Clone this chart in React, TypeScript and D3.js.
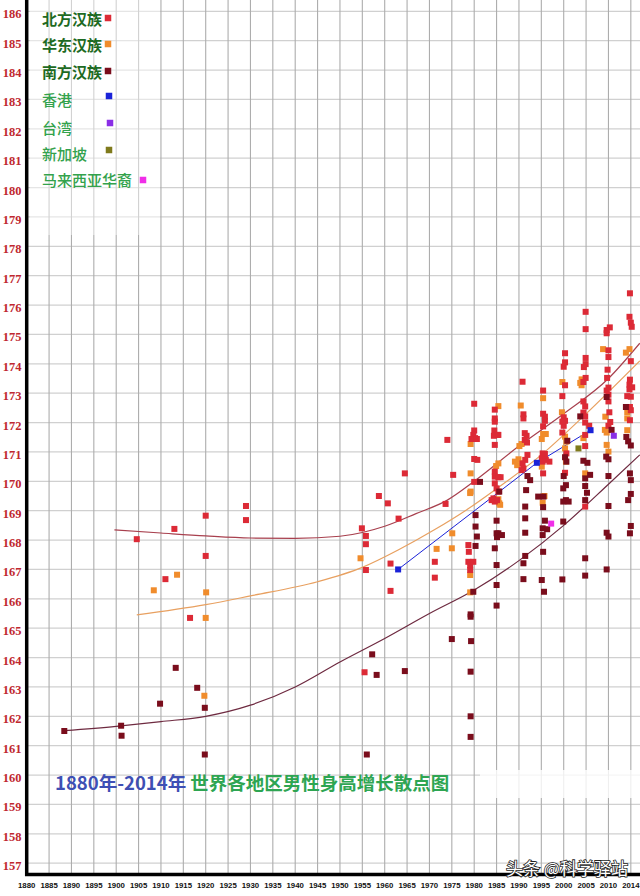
import React from "react";
import * as d3 from "d3";

type P = [number, number];

const Y_TICKS: number[] = d3.range(157, 187);
const X_TICKS: number[] = d3.range(1880, 2016, 5);
const X_TICK_LABELS: string[] = X_TICKS.map((t) => (t === 2015 ? "2014" : String(t)));

const NORTH: P[] = [
  [1904.6, 168.03], [1913, 168.38], [1920, 168.83], [1929, 169.16], [1929, 168.68], [1920, 167.46], [1911, 166.67], [1916.5, 165.35],
  [1958.7, 169.5], [1960.7, 169.25], [1963.1, 168.73], [1964.5, 170.27], [1954.9, 168.4], [1955.8, 168.14], [1955.8, 167.86], [1955.8, 166.98], [1961.3, 167.2], [1961.3, 166.27], [1955.5, 163.5],
  [1973.6, 169.23], [1971.2, 167.26], [1971.2, 166.72], [1974, 171.41], [1975.3, 170.22],
  [1980, 169.98], [1978.7, 167.83], [1978.8, 167.6], [1978.7, 167.26], [1979.1, 167.14], [1979.8, 167.26], [1979.1, 166.98],
  [1980, 172.64], [1980, 171.73], [1979.8, 171.58], [1980.2, 171.47], [1979.4, 171.44], [1980.6, 171.44], [1980, 170.76], [1980.7, 170.73],
  [1984.6, 172.44], [1984.6, 172.14], [1984.6, 172.03], [1984.5, 171.73], [1985.2, 171.58], [1984.4, 171.55], [1985.4, 171.58], [1984.6, 171.24], [1984.6, 170.33], [1984.6, 170.16], [1985.4, 170.14], [1985.9, 170.14], [1984.6, 169.93], [1985, 169.76], [1985.4, 169.65], [1984.3, 169.42], [1984.6, 169.31], [1985.1, 169.36], [1983.9, 169.36],
  [1990.8, 173.39], [1991, 172.28], [1991, 172.14], [1991.3, 171.64], [1991.7, 171.55], [1991.3, 171.41], [1991.8, 171.32], [1991.9, 170.9], [1991.4, 170.73], [1990.8, 170.61], [1991, 170.44], [1990.6, 170.38],
  [1995.4, 173.09], [1995.4, 172.3], [1995.8, 172.2], [1995.8, 172.06], [1995.4, 171.87], [1995.3, 170.95], [1995.8, 170.93], [1995.1, 170.78], [1996, 170.73], [1996.8, 170.67], [1995.3, 170.67], [1995.4, 170.27],
  [2000.3, 174.36], [2000.3, 174.05], [2000, 173.9], [2000.3, 173.27], [1999.7, 172.9], [2000, 172.18], [2000.3, 172.06], [2000, 171.89], [1999.7, 172.03], [1999.7, 171.66], [2000.6, 170.95], [2000.3, 170.29],
  [2004.9, 175.77], [2004.9, 175.18], [2004.9, 174.2], [2004.9, 173.99], [2004.5, 173.89], [2004.9, 173.52], [2004.4, 173.38], [2004.4, 172.72], [2004.8, 172.55], [2004.4, 172.34], [2004.8, 172.21], [2005.7, 171.89], [2004.8, 172], [2004.8, 171.58], [2004.8, 171.2], [2004.8, 169.14],
  [2010.3, 175.24], [2009.6, 175.15], [2009.6, 175.04], [2010, 174.46], [2010, 174.23], [2009.8, 173.8], [2009.7, 173.52], [2010, 173.19], [2009.6, 173.09], [2010, 172.95], [2010, 172.72], [2010.2, 172.35], [2010.4, 172.02], [2010, 171.89],
  [2014.8, 176.4], [2014.7, 175.6], [2015, 175.4], [2015.2, 175.26], [2015, 174.09], [2014.8, 173.46], [2014.7, 173.29], [2015.3, 173.2], [2014.7, 173.13], [2014.2, 172.9], [2015, 172.88], [2014.8, 172.53], [2015, 172.42], [2014.8, 172.08],
];

const EAST: P[] = [
  [1908.4, 166.29], [1913.6, 166.82], [1920.1, 166.22], [1920, 165.35], [1919.7, 162.7],
  [1954.6, 167.38], [1971.6, 167.7], [1975.1, 168.23], [1975, 167.72], [1979.1, 169.6], [1979.1, 166.81], [1979.1, 166.22],
  [1979.2, 171.27], [1979.2, 170.27], [1979.2, 169.65],
  [1985.4, 172.56], [1985.4, 170.61], [1984.9, 170.52], [1985.4, 169.39], [1985.6, 169.25], [1985.8, 169.2],
  [1990.4, 172.58], [1990.1, 171.2], [1990.6, 171.27], [1989.1, 170.67], [1989.9, 170.75], [1989.6, 170.55], [1990.6, 170.61],
  [1995.4, 172.83], [1995.4, 171.61], [1996, 171.61], [1995.1, 171.44], [1995.1, 170.5], [1995.3, 169.27], [1995.7, 169.5],
  [1999.7, 173.38], [1999.6, 172.35], [2000.3, 171.52], [2000.6, 171.35], [2000.3, 171.12], [2000.5, 170.67],
  [2004, 173.47], [2003.7, 173.35], [2004, 173.27], [2004.4, 171.47], [2004.8, 170.27],
  [2008.8, 174.5], [2009.3, 172.2], [2009.2, 171.75], [2009.6, 171.66], [2009.6, 171.24], [2010, 171.01],
  [2013.9, 174.38], [2014.7, 174.5], [2014.2, 172.35], [2014.2, 172.14], [2014.2, 171.74],
];

const SOUTH: P[] = [
  [1888.4, 161.5], [1901.1, 161.68], [1901.2, 161.34], [1909.8, 162.43], [1913.3, 163.65], [1918.1, 162.97], [1919.8, 162.29], [1919.8, 160.7],
  [1956, 160.7], [1957.2, 164.11], [1958.2, 163.41], [1964.5, 163.54],
  [1975, 164.63], [1979.3, 164.56], [1979.2, 163.52], [1979.2, 162.0], [1979.2, 161.3], [1979.2, 165.47], [1979.2, 165.39], [1979.8, 166.24],
  [1981.3, 169.98], [1980.3, 168.85], [1980.3, 168.46], [1980.6, 168.12], [1980.3, 167.8],
  [1985, 168.66], [1985, 168.23], [1985.4, 168.23], [1986.2, 168.17], [1985.1, 168.1], [1984.6, 167.72], [1985, 167.15], [1985, 166.47], [1985, 165.77], [1985.6, 169.65],
  [1991.9, 170.18], [1992.5, 170.04], [1991.6, 169.7], [1991.4, 169.14], [1991.4, 168.74], [1991.4, 168.25], [1991.4, 167.46], [1991, 167.21], [1991, 166.67],
  [1994.3, 169.48], [1995.5, 169.48], [1995.4, 169.12], [1995.8, 168.66], [1995.3, 168.4], [1996.3, 168.37], [1995.3, 168.17], [1995.4, 167.6], [1995.1, 166.64], [1995.6, 166.24],
  [2003.7, 172.21], [2000.8, 171.38], [2000.3, 170.82], [2000.6, 170.67], [2000, 170.18], [2000.5, 169.87], [1999.9, 169.76], [2000.5, 169.36], [1999.9, 169.31], [2001.1, 169.31], [1999.9, 168.63], [1999.7, 166.66],
  [2004.4, 170.7], [2005.3, 170.63], [2004.8, 170.1], [2005.9, 170.22], [2004.8, 169.84], [2005.2, 169.61], [2004.8, 169.36], [2004.8, 167.38], [2004.8, 166.79],
  [2009.6, 172.87], [2010.7, 171.75], [2009.5, 170.84], [2010, 170.75], [2010, 170.18], [2010, 169.16], [2009.6, 168.25], [2010, 168.12], [2009.6, 167.0],
  [2013.9, 172.53], [2014, 171.51], [2014.4, 171.36], [2015, 171.22], [2014.8, 170.27], [2015, 170.04], [2015, 169.57], [2014.4, 169.36], [2015, 168.48], [2014.8, 168.23],
];

const HONGKONG: P[] = [[1963, 167.0], [1994, 170.63], [2006, 171.74]];
const TAIWAN: P[] = [[2011.2, 171.55]];
const SINGAPORE: P[] = [[2003.3, 171.12]];
const MALAYSIA: P[] = [[1997.2, 168.56]];

const NORTH_TREND: P[] = [
  [1899.6, 168.35], [1910, 168.24], [1920, 168.14], [1930, 168.07], [1940, 168.06], [1950, 168.13], [1960, 168.47],
  [1967, 168.9], [1974, 169.36], [1980, 170.0], [1990, 171.2], [2000, 172.3], [2010, 173.5], [2017, 174.7],
];
const EAST_TREND: P[] = [
  [1904.6, 165.45], [1920, 165.8], [1930, 166.1], [1945, 166.58], [1955, 167.07], [1963, 167.66], [1971, 168.34],
  [1978, 169.0], [1985, 169.75], [1995, 170.9], [2005, 172.3], [2017, 174.1],
];
const SOUTH_TREND: P[] = [
  [1888.4, 161.51], [1900, 161.66], [1910, 161.82], [1920, 162.0], [1930, 162.38], [1940, 163.0], [1950, 163.85],
  [1960, 164.65], [1970, 165.5], [1980, 166.3], [1990, 167.3], [2000, 168.5], [2010, 169.9], [2017, 170.9],
];

const LEGEND_LABELS: string[] = ["北方汉族", "华东汉族", "南方汉族", "香港", "台湾", "新加坡", "马来西亚华裔"];
const TITLE_A = "1880年-2014年";
const TITLE_B = " 世界各地区男性身高增长散点图";
const WATERMARK = "头条 @科学驿站";

const C_NORTH = "#dc2a36";
const C_EAST = "#f08c2c";
const C_SOUTH = "#7a0d1c";
const C_HK = "#1a22d8";
const C_TW = "#8a2ee6";
const C_SG = "#7f7a1c";
const C_MY = "#f02ee8";

export default function App() {
  const W = 640;
  const H = 896;
  const x = d3.scaleLinear().domain([1880, 2017.05]).range([26.7, 640]);
  const y = d3.scaleLinear().domain([157, 186]).range([863.2, 11.3]);
  const line = d3
    .line<P>()
    .x((d) => x(d[0]))
    .y((d) => y(d[1]))
    .curve(d3.curveMonotoneX);
  const straight = d3
    .line<P>()
    .x((d) => x(d[0]))
    .y((d) => y(d[1]));
  const S = 6;
  const sq = (data: P[], color: string, key: string) =>
    data.map((d, i) => (
      <rect key={key + i} x={x(d[0]) - S / 2} y={y(d[1]) - S / 2} width={S} height={S} fill={color} />
    ));

  const legendColors = [C_NORTH, C_EAST, C_SOUTH, C_HK, C_TW, C_SG, C_MY];
  const legendTextY = [25, 51, 78, 106, 134, 160, 186];
  const legendSqX = [108, 108, 108, 109, 110, 109, 143];
  const legendSqY = [18, 44, 71, 96, 123, 150, 180];
  const cjk = "'Noto Sans CJK SC', 'Noto Sans', sans-serif";

  return (
    <svg
      width={W}
      height={H}
      style={{ position: "absolute", left: 0, top: 0, background: "#fff" }}
    >
      <rect x={0} y={0} width={W} height={H} fill="#fff" />
      {/* horizontal grid */}
      {Y_TICKS.map((t) => (
        <line key={"h" + t} x1={27} x2={W} y1={y(t)} y2={y(t)} stroke="#d0d0d0" strokeWidth={1.2} />
      ))}
      {/* vertical grid */}
      {X_TICKS.slice(1).map((t) => (
        <line key={"v" + t} x1={x(t)} x2={x(t)} y1={0} y2={874} stroke="#adadad" strokeWidth={1.1} />
      ))}
      {/* faded patches (artifacts in the source image) */}
      <rect x={30} y={0} width={130} height={235} fill="#fff" opacity={0.45} />
      <rect x={480} y={770} width={160} height={28} fill="#fff" opacity={0.8} />

      {/* trend curves */}
      <path d={line(SOUTH_TREND) || ""} fill="none" stroke="#6e2a40" strokeWidth={1.2} />
      <path d={line(EAST_TREND) || ""} fill="none" stroke="#e8a060" strokeWidth={1.2} />
      <path d={line(NORTH_TREND) || ""} fill="none" stroke="#a8404e" strokeWidth={1.2} />
      <path d={straight(HONGKONG) || ""} fill="none" stroke={C_HK} strokeWidth={1} />

      {sq(EAST, C_EAST, "e")}
      {sq(NORTH, C_NORTH, "n")}
      {sq(SOUTH, C_SOUTH, "s")}
      {sq(HONGKONG, C_HK, "hk")}
      {sq(TAIWAN, C_TW, "tw")}
      {sq(SINGAPORE, C_SG, "sg")}
      {sq(MALAYSIA, C_MY, "my")}

      {/* axes */}
      <line x1={26.7} x2={26.7} y1={0} y2={876} stroke="#000" strokeWidth={3.5} />
      <line x1={25} x2={W} y1={874.5} y2={874.5} stroke="#000" strokeWidth={3.5} />

      {/* y labels */}
      {Y_TICKS.map((t) => (
        <text
          key={"yl" + t}
          x={12}
          y={y(t) + 7}
          textAnchor="middle"
          fontFamily="'Liberation Serif', 'DejaVu Serif', serif"
          fontWeight="bold"
          fontSize={12.5}
          fill="#c0282f"
        >
          {t}
        </text>
      ))}
      {/* x labels */}
      {X_TICKS.map((t, i) => (
        <text
          key={"xl" + t}
          x={x(t)}
          y={888}
          textAnchor="middle"
          fontFamily="'Liberation Sans', Arial, sans-serif"
          fontWeight="bold"
          fontSize={7.8}
          fill="#111"
        >
          {X_TICK_LABELS[i]}
        </text>
      ))}

      {/* legend */}
      {LEGEND_LABELS.map((lab, i) => (
        <g key={"lg" + i}>
          <text
            x={42}
            y={legendTextY[i]}
            fontFamily={cjk}
            fontSize={15}
            fontWeight={i < 3 ? 700 : 500}
            fill={i < 3 ? "#1d6a22" : "#33a24c"}
          >
            {lab}
          </text>
          <rect x={legendSqX[i] - 3.25} y={legendSqY[i] - 3.25} width={6.5} height={6.5} fill={legendColors[i]} />
        </g>
      ))}

      {/* title */}
      <text x={55} y={790} fontFamily={cjk} fontSize={18.5} fontWeight={700}>
        <tspan fill="#3e4fb4">{TITLE_A}</tspan>
        <tspan fill="#2ea552">{TITLE_B}</tspan>
      </text>

      {/* watermark */}
      <text
        x={506}
        y={875}
        fontFamily={cjk}
        fontSize={17}
        fill="#fff"
        stroke="#222"
        strokeWidth={1.6}
        style={{ paintOrder: "stroke" }}
      >
        {WATERMARK}
      </text>
    </svg>
  );
}
